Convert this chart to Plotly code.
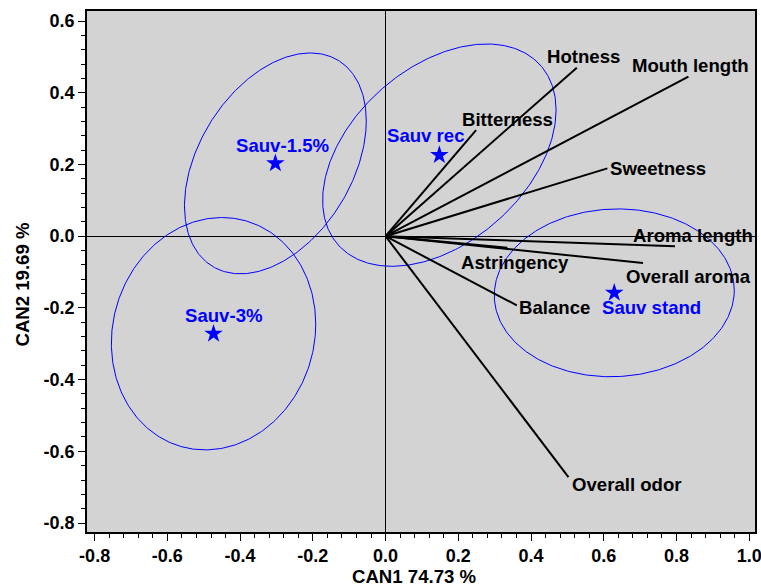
import numpy as np
import plotly.graph_objects as go

# ---- data ----
groups = ["Sauv-1.5%", "Sauv-3%", "Sauv rec", "Sauv stand"]
group_can1 = [-0.303, -0.473, 0.148, 0.629]
group_can2 = [0.203, -0.272, 0.226, -0.158]
# confidence ellipses: half-width (CAN1), half-height (CAN2), tilt correlation
ellipse_rx = [0.250, 0.281, 0.321, 0.330]
ellipse_ry = [0.308, 0.324, 0.310, 0.234]
ellipse_rho = [0.385, 0.082, 0.406, 0.03]

attributes = ["Hotness", "Mouth length", "Bitterness", "Sweetness", "Aroma length",
              "Overall aroma", "Astringency", "Balance", "Overall odor"]
attr_can1 = [0.526, 0.833, 0.249, 0.610, 0.796, 0.708, 0.335, 0.361, 0.503]
attr_can2 = [0.470, 0.445, 0.296, 0.189, -0.028, -0.075, -0.032, -0.193, -0.672]

x_tick_values = [-0.8, -0.6, -0.4, -0.2, 0.0, 0.2, 0.4, 0.6, 0.8, 1.0]
x_tick_labels = ["-0.8", "-0.6", "-0.4", "-0.2", "0.0", "0.2", "0.4", "0.6", "0.8", "1.0"]
y_tick_values = [-0.8, -0.6, -0.4, -0.2, 0.0, 0.2, 0.4, 0.6]
y_tick_labels = ["-0.8", "-0.6", "-0.4", "-0.2", "0.0", "0.2", "0.4", "0.6"]

x_title = "CAN1 74.73 %"
y_title = "CAN2 19.69 %"

# ---- label placement (pixel offsets, style only) ----
attr_label_offsets = {  # (dx right, dy up) of the label's left-middle from the vector tip
    "Hotness": (-32, 11), "Mouth length": (-58, 11), "Bitterness": (-16, 11),
    "Sweetness": (1, 0), "Aroma length": (-44, 11), "Overall aroma": (-19, -13),
    "Astringency": (-48, -15), "Balance": (0, -2), "Overall odor": (2, -7),
}
group_label_offsets = {
    "Sauv-1.5%": (7, 18), "Sauv-3%": (10, 18), "Sauv rec": (-13, 20), "Sauv stand": (37, -15),
}

FONT = "Liberation Sans, Arial, sans-serif"
FS = 18
FS_LABEL = 18.6
BLUE = "#0000FF"

fig = go.Figure()

t = np.linspace(0, 2 * np.pi, 361)
for cx, cy, rx, ry, rho in zip(group_can1, group_can2, ellipse_rx, ellipse_ry, ellipse_rho):
    d = np.arccos(rho)
    fig.add_trace(go.Scatter(x=cx + rx * np.cos(t), y=cy + ry * np.cos(t - d),
                             mode="lines", line=dict(color=BLUE, width=1),
                             hoverinfo="skip", showlegend=False))

for name, ax, ay in zip(attributes, attr_can1, attr_can2):
    fig.add_trace(go.Scatter(x=[0, ax], y=[0, ay], mode="lines",
                             line=dict(color="black", width=2),
                             name=name, showlegend=False))
    dx, dy = attr_label_offsets[name]
    fig.add_annotation(x=ax, y=ay, text=name, showarrow=False, xanchor="left",
                       yanchor="middle", xshift=dx, yshift=dy,
                       font=dict(family=FONT, size=FS_LABEL, color="black", weight="bold"))

fig.add_trace(go.Scatter(x=group_can1, y=group_can2, mode="markers",
                         marker=dict(symbol="star", size=14, color=BLUE, line=dict(width=0)),
                         text=groups, showlegend=False))
for name, gx, gy in zip(groups, group_can1, group_can2):
    dx, dy = group_label_offsets[name]
    fig.add_annotation(x=gx, y=gy, text=name, showarrow=False, xanchor="center",
                       yanchor="middle", xshift=dx, yshift=dy,
                       font=dict(family=FONT, size=FS_LABEL, color=BLUE, weight="bold"))

axis_common = dict(
    showgrid=False, showline=True, linecolor="black", linewidth=1.5, mirror=True,
    zeroline=True, zerolinecolor="black", zerolinewidth=1, automargin=False,
    ticklabeloverflow="allow",
    ticks="outside", ticklen=7, tickwidth=1, tickcolor="black",
    tickfont=dict(family=FONT, size=FS, color="black", weight="bold"),
    minor=dict(dtick=0.04, tick0=0, ticks="outside", ticklen=4, tickwidth=1, tickcolor="black"),
)
fig.update_xaxes(range=[-0.821, 1.016], tickmode="array", tickvals=x_tick_values,
                 ticktext=x_tick_labels, **axis_common)
fig.update_yaxes(range=[-0.825, 0.628], tickmode="array", tickvals=y_tick_values,
                 ticktext=y_tick_labels, **axis_common)

fig.add_annotation(xref="paper", yref="paper", x=0.49, y=0, yanchor="middle",
                   yshift=-44, text=x_title, showarrow=False,
                   font=dict(family=FONT, size=FS_LABEL, color="black", weight="bold"))
fig.add_annotation(xref="paper", yref="paper", x=0, y=0.475, xanchor="center",
                   xshift=-64, text=y_title, showarrow=False, textangle=-90,
                   font=dict(family=FONT, size=FS_LABEL, color="black", weight="bold"))

fig.update_layout(width=761, height=584, margin=dict(l=87, r=6, t=11, b=52),
                  plot_bgcolor="#D3D3D3", paper_bgcolor="white")

# remove the default page margin so the figure fills the window exactly; hide the modebar
fig.write_html("out.html", config={"displayModeBar": False},
               post_script="document.body.style.margin='0px';")
